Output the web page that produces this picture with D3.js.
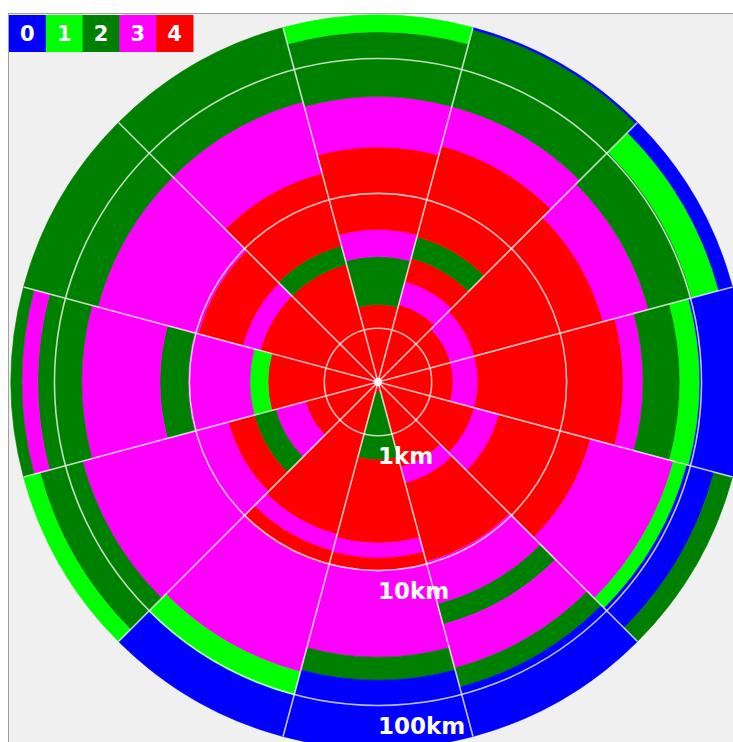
<!DOCTYPE html>
<html lang="en">
<head>
    <meta charset="UTF-8">
    <title>Polar bands</title>
    <script src="https://cdn.jsdelivr.net/npm/d3@7/dist/d3.min.js"></script>
    <style>
        body { margin: 0; background: #fff; }
        text { font-family: "DejaVu Sans", Verdana, sans-serif; font-weight: bold; }
    </style>
</head>
<body>
    <script>
        // classes 0..4 and their colours
        var classes = [0, 1, 2, 3, 4];
        var classColors = ["#0000ff", "#00ff00", "#008000", "#ff00ff", "#ff0000"];

        // sector centres, degrees clockwise from north
        var sectorAngles = [0, 30, 60, 90, 120, 150, 180, 210, 240, 270, 300, 330];

        // outer edge (km) of each band, walking out from the centre
        var bandEdges = [
            [1.5, 3.4, 5.4, 22, 52, 157, 210],
            [1.57, 2.36, 3.56, 5.2, 26, 52, 203, 210],
            [1.44, 2.2, 21.3, 47.6, 103, 165, 210],
            [1.44, 2.2, 26.2, 36.8, 69, 97, 210],
            [2.2, 3.4, 17.1, 74, 94, 152, 210],
            [1.8, 2.4, 9.6, 20.3, 29, 62.6, 88, 210],
            [0.48, 1.51, 6.24, 8.07, 10, 43.7, 64.8, 210],
            [5.93, 7.93, 10.2, 67, 102, 210],
            [1.44, 2.44, 3.56, 5.64, 74, 157, 210],
            [2.61, 3.56, 10.2, 16.5, 62.6, 132.6, 174, 210],
            [3.2, 4.37, 9.57, 56.5, 210],
            [3.2, 4.44, 16, 56.5, 210]
        ];
        // class of each band
        var bandClasses = [
            [4, 2, 3, 4, 3, 2, 1],
            [4, 3, 4, 2, 4, 3, 2, 0],
            [4, 3, 4, 3, 2, 1, 0],
            [4, 3, 4, 3, 2, 1, 0],
            [4, 3, 4, 3, 1, 0, 2],
            [4, 3, 4, 3, 2, 3, 2, 0],
            [4, 2, 4, 3, 4, 3, 2, 0],
            [4, 3, 4, 3, 1, 0],
            [4, 3, 2, 4, 3, 2, 1],
            [4, 1, 3, 2, 3, 2, 3, 2],
            [4, 3, 4, 3, 2],
            [4, 2, 4, 3, 2]
        ];

        var ringTicks = [1, 10, 100];
        var ringLabels = ["1km", "10km", "100km"];

        var minKm = 0.4, maxKm = 210;

        var w = 733, h = 742;
        var cx = 378, cy = 382, outerR = 367;
        var sectorWidth = 30;

        var r = d3.scaleLog().domain([minKm, maxKm]).range([0, outerR]);
        var color = d3.scaleOrdinal().domain(classes).range(classColors);
        var rad = function (deg) { return deg * Math.PI / 180; };

        var svg = d3.select("body")
            .append("svg")
            .attr("width", w)
            .attr("height", h);

        // panel
        svg.append("rect")
            .attr("x", 8).attr("y", 13)
            .attr("width", w - 8).attr("height", h - 13)
            .attr("fill", "#f0f0f0");
        svg.append("path")
            .attr("d", "M8.5," + h + "V13.5H" + w)
            .attr("fill", "none")
            .attr("stroke", "#a0a0a0");

        var g = svg.append("g")
            .attr("transform", "translate(" + cx + "," + cy + ")");

        // flatten bands
        var bands = [];
        sectorAngles.forEach(function (a, i) {
            var inner = minKm;
            bandEdges[i].forEach(function (outer, j) {
                bands.push({ angle: a, inner: inner, outer: outer, cls: bandClasses[i][j] });
                inner = outer;
            });
        });

        var arc = d3.arc()
            .innerRadius(function (d) { return r(d.inner); })
            .outerRadius(function (d) { return r(d.outer); })
            .startAngle(function (d) { return rad(d.angle - sectorWidth / 2); })
            .endAngle(function (d) { return rad(d.angle + sectorWidth / 2); });

        g.selectAll("path.band")
            .data(bands)
            .enter()
            .append("path")
            .attr("class", "band")
            .attr("d", arc)
            .attr("fill", function (d) { return color(d.cls); })
            .attr("stroke", function (d) { return color(d.cls); })
            .attr("stroke-width", 0.6);

        // grid circles
        g.selectAll("circle.grid")
            .data(ringTicks)
            .enter()
            .append("circle")
            .attr("class", "grid")
            .attr("r", function (d) { return r(d); })
            .attr("fill", "none")
            .attr("stroke", "#fff")
            .attr("stroke-opacity", 0.75)
            .attr("stroke-width", 1.6);

        // spokes on sector edges
        g.selectAll("line.spoke")
            .data(sectorAngles)
            .enter()
            .append("line")
            .attr("class", "spoke")
            .attr("x1", 0).attr("y1", 0)
            .attr("x2", function (d) { return outerR * Math.sin(rad(d + sectorWidth / 2)); })
            .attr("y2", function (d) { return -outerR * Math.cos(rad(d + sectorWidth / 2)); })
            .attr("stroke", "#fff")
            .attr("stroke-opacity", 0.75)
            .attr("stroke-width", 1.6);

        g.append("circle")
            .attr("r", 4)
            .attr("fill", "#fff")
            .attr("opacity", 0.85);

        // ring labels
        g.selectAll("text.ring")
            .data(ringTicks)
            .enter()
            .append("text")
            .attr("class", "ring")
            .attr("x", 0)
            .attr("y", function (d) { return r(d) + 28; })
            .attr("fill", "#fff")
            .attr("font-size", 23)
            .text(function (d, i) { return ringLabels[i]; });

        // legend
        var legend = svg.append("g")
            .attr("transform", "translate(9,15)");
        var lw = 36.8, lh = 37;
        legend.selectAll("rect")
            .data(classes)
            .enter()
            .append("rect")
            .attr("x", function (d, i) { return i * lw; })
            .attr("width", lw + 0.5)
            .attr("height", lh)
            .attr("fill", function (d) { return color(d); });
        legend.selectAll("text")
            .data(classes)
            .enter()
            .append("text")
            .attr("x", function (d, i) { return i * lw + lw / 2; })
            .attr("y", 26)
            .attr("text-anchor", "middle")
            .attr("fill", "#fff")
            .attr("font-size", 21)
            .text(function (d) { return d; });
    </script>
</body>
</html>
